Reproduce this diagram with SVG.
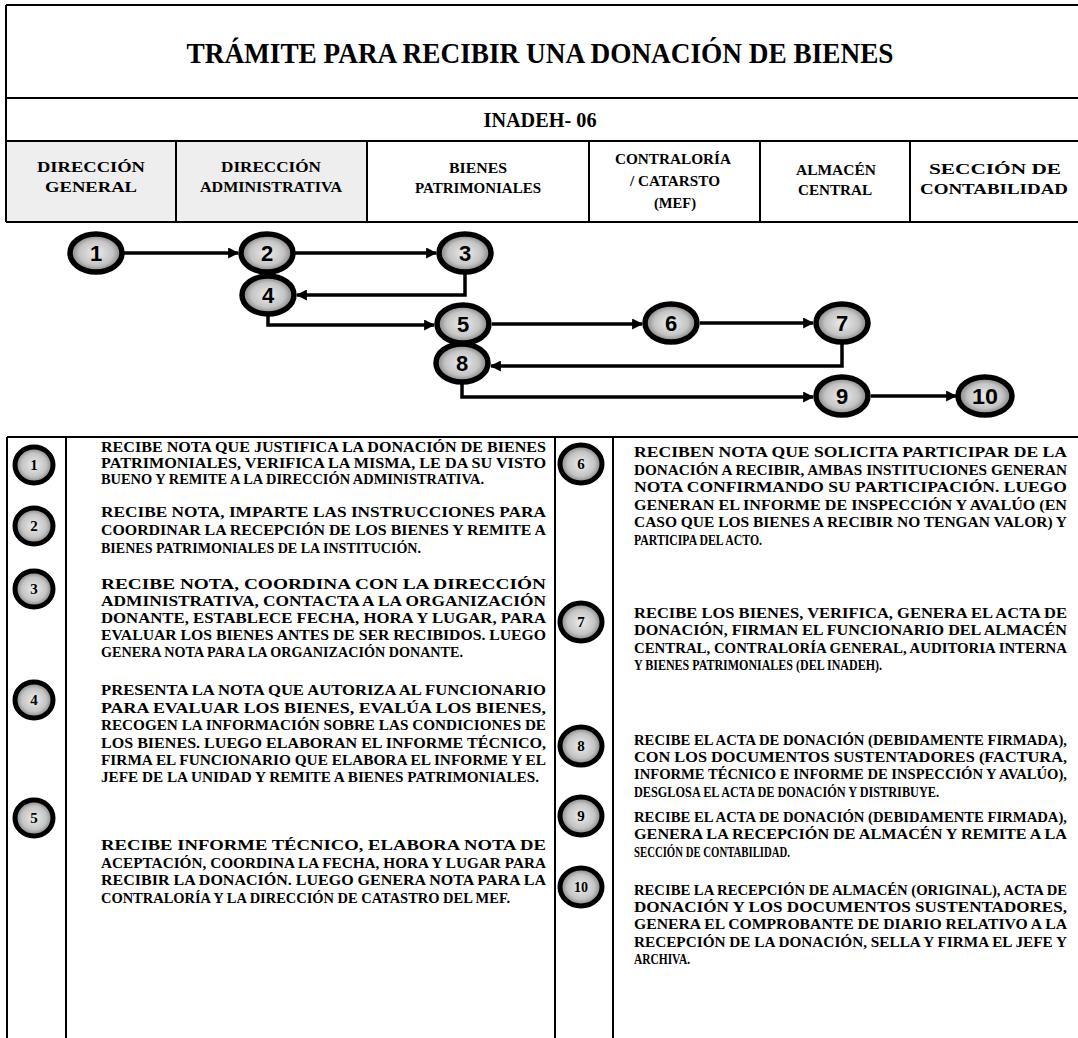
<svg xmlns="http://www.w3.org/2000/svg" width="1078" height="1038" viewBox="0 0 1078 1038">
<defs>
<radialGradient id="g" cx="50%" cy="50%" r="50%">
<stop offset="0" stop-color="#ececec"/>
<stop offset="0.65" stop-color="#c4c4c4"/>
<stop offset="1" stop-color="#7a7a7a"/>
</radialGradient>
<marker id="ah" viewBox="0 0 10 10" refX="9" refY="5" markerUnits="userSpaceOnUse" markerWidth="11" markerHeight="11" orient="auto">
<path d="M0,0 L10,5 L0,10 z" fill="#000"/>
</marker>
</defs>
<style>
.t{font-family:"Liberation Serif","Times New Roman",serif;font-weight:bold;fill:#000}
.ttl{font-size:30px;text-anchor:middle}
.sub{font-size:20px;text-anchor:middle}
.hd{font-size:15px;text-anchor:middle}
.b{font-size:15px}
.ln{stroke:#000;stroke-width:2;fill:none}
.conn path{stroke:#000;stroke-width:3.5;fill:none;marker-end:url(#ah)}
.node ellipse{fill:url(#g);stroke:#000;stroke-width:5.5}
.num{font-family:"Liberation Sans",Arial,sans-serif;font-weight:bold;font-size:22px;text-anchor:middle;fill:#000}
.ic ellipse{fill:url(#g);stroke:#000;stroke-width:5}
.in{font-family:"Liberation Serif","Times New Roman",serif;font-weight:bold;font-size:15px;text-anchor:middle;fill:#000}
</style>
<rect width="1078" height="1038" fill="#fff"/>

<g id="header">
<rect x="7" y="142" width="169" height="80" fill="#eeeeee"/>
<rect x="176" y="142" width="191" height="80" fill="#eeeeee"/>
<path class="ln" d="M6,5 H1078 M6,5 V222 M6,98 H1078 M6,141 H1078 M6,222 H1078 M176,141 V222 M367,141 V222 M589,141 V222 M760,141 V222 M910,141 V222"/>
<text class="t ttl" x="540" y="63" textLength="707" lengthAdjust="spacingAndGlyphs">TRÁMITE PARA RECIBIR UNA DONACIÓN DE BIENES</text>
<text class="t sub" x="540" y="127" textLength="113" lengthAdjust="spacingAndGlyphs">INADEH- 06</text>
<text class="t hd" x="91" y="172" textLength="108" lengthAdjust="spacingAndGlyphs">DIRECCIÓN</text>
<text class="t hd" x="91" y="192" textLength="92" lengthAdjust="spacingAndGlyphs">GENERAL</text>
<text class="t hd" x="271" y="172" textLength="100" lengthAdjust="spacingAndGlyphs">DIRECCIÓN</text>
<text class="t hd" x="271" y="192" textLength="142" lengthAdjust="spacingAndGlyphs">ADMINISTRATIVA</text>
<text class="t hd" x="478" y="173" textLength="58" lengthAdjust="spacingAndGlyphs">BIENES</text>
<text class="t hd" x="478" y="193" textLength="126" lengthAdjust="spacingAndGlyphs">PATRIMONIALES</text>
<text class="t hd" x="673" y="164" textLength="116" lengthAdjust="spacingAndGlyphs">CONTRALORÍA</text>
<text class="t hd" x="675" y="186" textLength="90" lengthAdjust="spacingAndGlyphs">/ CATARSTO</text>
<text class="t hd" x="675" y="208" textLength="42" lengthAdjust="spacingAndGlyphs">(MEF)</text>
<text class="t hd" x="836" y="175" textLength="80" lengthAdjust="spacingAndGlyphs">ALMACÉN</text>
<text class="t hd" x="835" y="195" textLength="74" lengthAdjust="spacingAndGlyphs">CENTRAL</text>
<text class="t hd" x="995" y="174" textLength="132" lengthAdjust="spacingAndGlyphs">SECCIÓN DE</text>
<text class="t hd" x="994" y="194" textLength="148" lengthAdjust="spacingAndGlyphs">CONTABILIDAD</text>
</g>

<g id="connectors" class="conn">
<path d="M124,253 H238"/>
<path d="M295,253 H436"/>
<path d="M465,274 V295 H297"/>
<path d="M268,316 V325 H434"/>
<path d="M492,324 H642"/>
<path d="M700,323 H813"/>
<path d="M842,344 V366 H491"/>
<path d="M462,384 V397 H813"/>
<path d="M871,396 H956"/>
</g>

<g id="n1" class="node"><ellipse cx="96" cy="253" rx="26" ry="19"/><text class="num" x="96" y="261">1</text></g>
<g id="n2" class="node"><ellipse cx="267" cy="253" rx="26" ry="19"/><text class="num" x="267" y="261">2</text></g>
<g id="n3" class="node"><ellipse cx="465" cy="253" rx="26" ry="19"/><text class="num" x="465" y="261">3</text></g>
<g id="n4" class="node"><ellipse cx="268" cy="295" rx="26" ry="19"/><text class="num" x="268" y="303">4</text></g>
<g id="n5" class="node"><ellipse cx="463" cy="324" rx="26" ry="19"/><text class="num" x="463" y="332">5</text></g>
<g id="n6" class="node"><ellipse cx="671" cy="323" rx="26" ry="19"/><text class="num" x="671" y="331">6</text></g>
<g id="n7" class="node"><ellipse cx="842" cy="323" rx="26" ry="19"/><text class="num" x="842" y="331">7</text></g>
<g id="n8" class="node"><ellipse cx="462" cy="363" rx="26" ry="19"/><text class="num" x="462" y="371">8</text></g>
<g id="n9" class="node"><ellipse cx="842" cy="396" rx="26" ry="19"/><text class="num" x="842" y="404">9</text></g>
<g id="n10" class="node"><ellipse cx="985" cy="396" rx="27" ry="19"/><text class="num" x="985" y="404" textLength="26" lengthAdjust="spacingAndGlyphs">10</text></g>

<g id="table">
<path class="ln" d="M7,437 H1078 M7,437 V1038 M66,437 V1038 M555,437 V1038 M613,437 V1038"/>
</g>

<g id="i1" class="ic"><ellipse cx="34" cy="465" rx="19" ry="18"/><text class="in" x="34" y="470">1</text></g>
<g id="i2" class="ic"><ellipse cx="34" cy="526" rx="19" ry="18"/><text class="in" x="34" y="531">2</text></g>
<g id="i3" class="ic"><ellipse cx="34" cy="589" rx="19" ry="18"/><text class="in" x="34" y="594">3</text></g>
<g id="i4" class="ic"><ellipse cx="34" cy="700" rx="19" ry="18"/><text class="in" x="34" y="705">4</text></g>
<g id="i5" class="ic"><ellipse cx="34" cy="818" rx="19" ry="18"/><text class="in" x="34" y="823">5</text></g>
<g id="i6" class="ic"><ellipse cx="581" cy="464" rx="21" ry="19"/><text class="in" x="581" y="469">6</text></g>
<g id="i7" class="ic"><ellipse cx="581" cy="622" rx="21" ry="19"/><text class="in" x="581" y="627">7</text></g>
<g id="i8" class="ic"><ellipse cx="581" cy="746" rx="21" ry="19"/><text class="in" x="581" y="751">8</text></g>
<g id="i9" class="ic"><ellipse cx="581" cy="816" rx="21" ry="19"/><text class="in" x="581" y="821">9</text></g>
<g id="i10" class="ic"><ellipse cx="581" cy="887" rx="21" ry="19"/><text class="in" x="581" y="892" textLength="14" lengthAdjust="spacingAndGlyphs">10</text></g>

<g id="desc-left" class="t b">
<text x="101" y="452" textLength="445" lengthAdjust="spacingAndGlyphs">RECIBE NOTA QUE JUSTIFICA LA DONACIÓN DE BIENES</text>
<text x="101" y="468" textLength="445" lengthAdjust="spacingAndGlyphs">PATRIMONIALES, VERIFICA LA MISMA, LE DA SU VISTO</text>
<text x="101" y="484" textLength="383" lengthAdjust="spacingAndGlyphs">BUENO Y REMITE A LA DIRECCIÓN ADMINISTRATIVA.</text>
<text x="101" y="517" textLength="445" lengthAdjust="spacingAndGlyphs">RECIBE NOTA, IMPARTE LAS INSTRUCCIONES PARA</text>
<text x="101" y="535" textLength="445" lengthAdjust="spacingAndGlyphs">COORDINAR LA RECEPCIÓN DE LOS BIENES  Y REMITE A</text>
<text x="101" y="553" textLength="320" lengthAdjust="spacingAndGlyphs">BIENES PATRIMONIALES DE LA INSTITUCIÓN.</text>
<text x="101" y="589" textLength="445" lengthAdjust="spacingAndGlyphs">RECIBE NOTA, COORDINA CON LA DIRECCIÓN</text>
<text x="101" y="606" textLength="445" lengthAdjust="spacingAndGlyphs">ADMINISTRATIVA, CONTACTA A LA ORGANIZACIÓN</text>
<text x="101" y="623" textLength="445" lengthAdjust="spacingAndGlyphs">DONANTE, ESTABLECE FECHA, HORA Y LUGAR, PARA</text>
<text x="101" y="640" textLength="445" lengthAdjust="spacingAndGlyphs">EVALUAR LOS BIENES ANTES DE SER RECIBIDOS. LUEGO</text>
<text x="101" y="657" textLength="362" lengthAdjust="spacingAndGlyphs">GENERA NOTA PARA LA ORGANIZACIÓN DONANTE.</text>
<text x="101" y="695" textLength="445" lengthAdjust="spacingAndGlyphs">PRESENTA LA NOTA QUE AUTORIZA AL FUNCIONARIO</text>
<text x="101" y="713" textLength="445" lengthAdjust="spacingAndGlyphs">PARA EVALUAR LOS BIENES, EVALÚA LOS BIENES,</text>
<text x="101" y="730" textLength="445" lengthAdjust="spacingAndGlyphs">RECOGEN LA INFORMACIÓN SOBRE LAS CONDICIONES DE</text>
<text x="101" y="748" textLength="445" lengthAdjust="spacingAndGlyphs">LOS BIENES.  LUEGO ELABORAN EL INFORME TÉCNICO,</text>
<text x="101" y="765" textLength="445" lengthAdjust="spacingAndGlyphs">FIRMA EL FUNCIONARIO QUE ELABORA EL INFORME Y EL</text>
<text x="101" y="782" textLength="438" lengthAdjust="spacingAndGlyphs">JEFE DE LA UNIDAD Y REMITE A BIENES PATRIMONIALES.</text>
<text x="101" y="850" textLength="445" lengthAdjust="spacingAndGlyphs">RECIBE INFORME TÉCNICO, ELABORA NOTA DE</text>
<text x="101" y="868" textLength="445" lengthAdjust="spacingAndGlyphs">ACEPTACIÓN, COORDINA LA FECHA, HORA Y LUGAR PARA</text>
<text x="101" y="885" textLength="445" lengthAdjust="spacingAndGlyphs">RECIBIR LA DONACIÓN.  LUEGO GENERA NOTA PARA LA</text>
<text x="101" y="903" textLength="409" lengthAdjust="spacingAndGlyphs">CONTRALORÍA Y LA DIRECCIÓN DE CATASTRO DEL MEF.</text>
</g>

<g id="desc-right" class="t b">
<text x="634" y="457" textLength="433" lengthAdjust="spacingAndGlyphs">RECIBEN NOTA QUE SOLICITA PARTICIPAR DE LA</text>
<text x="634" y="475" textLength="433" lengthAdjust="spacingAndGlyphs">DONACIÓN A RECIBIR,  AMBAS INSTITUCIONES GENERAN</text>
<text x="634" y="492" textLength="433" lengthAdjust="spacingAndGlyphs">NOTA CONFIRMANDO SU PARTICIPACIÓN.  LUEGO</text>
<text x="634" y="510" textLength="433" lengthAdjust="spacingAndGlyphs">GENERAN EL INFORME DE INSPECCIÓN Y AVALÚO (EN</text>
<text x="634" y="527" textLength="433" lengthAdjust="spacingAndGlyphs">CASO QUE LOS BIENES A RECIBIR NO TENGAN VALOR) Y</text>
<text x="634" y="545" textLength="128" lengthAdjust="spacingAndGlyphs">PARTICIPA DEL ACTO.</text>
<text x="634" y="618" textLength="433" lengthAdjust="spacingAndGlyphs">RECIBE LOS BIENES, VERIFICA, GENERA EL ACTA DE</text>
<text x="634" y="635" textLength="433" lengthAdjust="spacingAndGlyphs">DONACIÓN, FIRMAN EL FUNCIONARIO DEL ALMACÉN</text>
<text x="634" y="653" textLength="433" lengthAdjust="spacingAndGlyphs">CENTRAL, CONTRALORÍA GENERAL, AUDITORIA INTERNA</text>
<text x="634" y="670" textLength="248" lengthAdjust="spacingAndGlyphs">Y BIENES PATRIMONIALES  (DEL INADEH).</text>
<text x="634" y="745" textLength="433" lengthAdjust="spacingAndGlyphs">RECIBE EL ACTA DE DONACIÓN (DEBIDAMENTE FIRMADA),</text>
<text x="634" y="762" textLength="433" lengthAdjust="spacingAndGlyphs">CON LOS DOCUMENTOS SUSTENTADORES (FACTURA,</text>
<text x="634" y="779" textLength="433" lengthAdjust="spacingAndGlyphs">INFORME TÉCNICO E INFORME DE INSPECCIÓN Y AVALÚO),</text>
<text x="634" y="797" textLength="305" lengthAdjust="spacingAndGlyphs">DESGLOSA EL ACTA DE DONACIÓN Y DISTRIBUYE.</text>
<text x="634" y="822" textLength="433" lengthAdjust="spacingAndGlyphs">RECIBE EL ACTA DE DONACIÓN (DEBIDAMENTE FIRMADA),</text>
<text x="634" y="839" textLength="433" lengthAdjust="spacingAndGlyphs">GENERA LA RECEPCIÓN DE ALMACÉN Y REMITE A LA</text>
<text x="634" y="857" textLength="156" lengthAdjust="spacingAndGlyphs">SECCIÓN DE CONTABILIDAD.</text>
<text x="634" y="895" textLength="433" lengthAdjust="spacingAndGlyphs">RECIBE LA RECEPCIÓN DE ALMACÉN (ORIGINAL), ACTA DE</text>
<text x="634" y="912" textLength="433" lengthAdjust="spacingAndGlyphs">DONACIÓN Y LOS DOCUMENTOS SUSTENTADORES,</text>
<text x="634" y="929" textLength="433" lengthAdjust="spacingAndGlyphs">GENERA EL COMPROBANTE DE DIARIO RELATIVO A LA</text>
<text x="634" y="947" textLength="433" lengthAdjust="spacingAndGlyphs">RECEPCIÓN DE LA DONACIÓN, SELLA Y FIRMA EL JEFE Y</text>
<text x="634" y="964" textLength="56" lengthAdjust="spacingAndGlyphs">ARCHIVA.</text>
</g>
</svg>
